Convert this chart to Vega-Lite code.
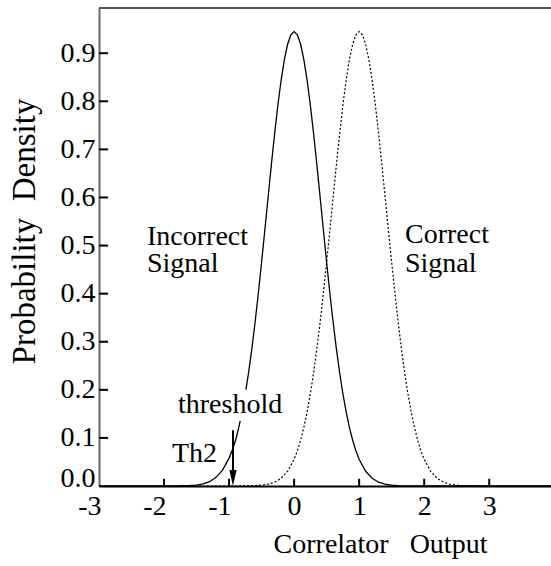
{
  "$schema": "https://vega.github.io/schema/vega-lite/v6.json",
  "width": 452,
  "height": 478,
  "autosize": "none",
  "padding": {"left": 99, "top": 8, "right": 0, "bottom": 80},
  "background": "white",
  "config": {"view": {"stroke": null}, "font": "Liberation Serif"},
  "datasets": {
    "incorrect": [
      {"x": -3, "y": 0}, {"x": -2.5, "y": 0}, {"x": -2, "y": 0}, {"x": -1.8, "y": 0.0002},
      {"x": -1.6, "y": 0.001}, {"x": -1.5, "y": 0.002}, {"x": -1.4, "y": 0.0045}, {"x": -1.3, "y": 0.009},
      {"x": -1.2, "y": 0.018}, {"x": -1.1, "y": 0.033}, {"x": -1.0, "y": 0.058}, {"x": -0.95, "y": 0.075},
      {"x": -0.9, "y": 0.0951}, {"x": -0.85, "y": 0.1219}, {"x": -0.8, "y": 0.154}, {"x": -0.75, "y": 0.1919},
      {"x": -0.7, "y": 0.2356}, {"x": -0.65, "y": 0.2853}, {"x": -0.6, "y": 0.3406}, {"x": -0.55, "y": 0.4009},
      {"x": -0.5, "y": 0.4652}, {"x": -0.45, "y": 0.5323}, {"x": -0.4, "y": 0.6005}, {"x": -0.35, "y": 0.6678},
      {"x": -0.3, "y": 0.7322}, {"x": -0.25, "y": 0.7916}, {"x": -0.2, "y": 0.8437}, {"x": -0.15, "y": 0.8866},
      {"x": -0.1, "y": 0.9186}, {"x": -0.05, "y": 0.9383}, {"x": 0, "y": 0.945}, {"x": 0.05, "y": 0.9383},
      {"x": 0.1, "y": 0.9186}, {"x": 0.15, "y": 0.8866}, {"x": 0.2, "y": 0.8437}, {"x": 0.25, "y": 0.7916},
      {"x": 0.3, "y": 0.7322}, {"x": 0.35, "y": 0.6678}, {"x": 0.4, "y": 0.6005}, {"x": 0.45, "y": 0.5323},
      {"x": 0.5, "y": 0.4652}, {"x": 0.55, "y": 0.4009}, {"x": 0.6, "y": 0.3406}, {"x": 0.65, "y": 0.2853},
      {"x": 0.7, "y": 0.2356}, {"x": 0.75, "y": 0.1919}, {"x": 0.8, "y": 0.154}, {"x": 0.85, "y": 0.1219},
      {"x": 0.9, "y": 0.0951}, {"x": 0.95, "y": 0.0732}, {"x": 1.0, "y": 0.0555}, {"x": 1.1, "y": 0.0306},
      {"x": 1.2, "y": 0.016}, {"x": 1.3, "y": 0.0079}, {"x": 1.4, "y": 0.0037}, {"x": 1.5, "y": 0.0016},
      {"x": 1.6, "y": 0.0007}, {"x": 1.8, "y": 0.0001}, {"x": 2, "y": 0}, {"x": 3, "y": 0}, {"x": 3.95, "y": 0}
    ],
    "correct": [
      {"x": -3, "y": 0}, {"x": -2, "y": 0}, {"x": -1, "y": 0}, {"x": -0.8, "y": 0.0001},
      {"x": -0.6, "y": 0.0007}, {"x": -0.5, "y": 0.0016}, {"x": -0.4, "y": 0.0037}, {"x": -0.3, "y": 0.0079},
      {"x": -0.2, "y": 0.016}, {"x": -0.1, "y": 0.0306}, {"x": 0, "y": 0.0555}, {"x": 0.05, "y": 0.0732},
      {"x": 0.1, "y": 0.0951}, {"x": 0.15, "y": 0.1219}, {"x": 0.2, "y": 0.154}, {"x": 0.25, "y": 0.1919},
      {"x": 0.3, "y": 0.2356}, {"x": 0.35, "y": 0.2853}, {"x": 0.4, "y": 0.3406}, {"x": 0.45, "y": 0.4009},
      {"x": 0.5, "y": 0.4652}, {"x": 0.55, "y": 0.5323}, {"x": 0.6, "y": 0.6005}, {"x": 0.65, "y": 0.6678},
      {"x": 0.7, "y": 0.7322}, {"x": 0.75, "y": 0.7916}, {"x": 0.8, "y": 0.8437}, {"x": 0.85, "y": 0.8866},
      {"x": 0.9, "y": 0.9186}, {"x": 0.95, "y": 0.9383}, {"x": 1.0, "y": 0.945}, {"x": 1.05, "y": 0.9383},
      {"x": 1.1, "y": 0.9186}, {"x": 1.15, "y": 0.8866}, {"x": 1.2, "y": 0.8437}, {"x": 1.25, "y": 0.7916},
      {"x": 1.3, "y": 0.7322}, {"x": 1.35, "y": 0.6678}, {"x": 1.4, "y": 0.6005}, {"x": 1.45, "y": 0.5323},
      {"x": 1.5, "y": 0.4652}, {"x": 1.55, "y": 0.4009}, {"x": 1.6, "y": 0.3406}, {"x": 1.65, "y": 0.2853},
      {"x": 1.7, "y": 0.2356}, {"x": 1.75, "y": 0.1919}, {"x": 1.8, "y": 0.154}, {"x": 1.85, "y": 0.1219},
      {"x": 1.9, "y": 0.0951}, {"x": 1.95, "y": 0.0732}, {"x": 2.0, "y": 0.0555}, {"x": 2.1, "y": 0.0306},
      {"x": 2.2, "y": 0.016}, {"x": 2.3, "y": 0.0079}, {"x": 2.4, "y": 0.0037}, {"x": 2.5, "y": 0.0016},
      {"x": 2.6, "y": 0.0007}, {"x": 2.8, "y": 0.0001}, {"x": 3, "y": 0}, {"x": 3.95, "y": 0}
    ],
    "border": [{"x": -3, "x2": 3.95, "y": 0.994}],
    "yticks": [
      {"x": -3, "x2": -2.86, "y": 0.1}, {"x": -3, "x2": -2.86, "y": 0.2}, {"x": -3, "x2": -2.86, "y": 0.3},
      {"x": -3, "x2": -2.86, "y": 0.4}, {"x": -3, "x2": -2.86, "y": 0.5}, {"x": -3, "x2": -2.86, "y": 0.6},
      {"x": -3, "x2": -2.86, "y": 0.7}, {"x": -3, "x2": -2.86, "y": 0.8}, {"x": -3, "x2": -2.86, "y": 0.9}
    ],
    "xticks": [
      {"x": -2, "y": 0, "y2": 0.015}, {"x": -1, "y": 0, "y2": 0.015}, {"x": 0, "y": 0, "y2": 0.015},
      {"x": 1, "y": 0, "y2": 0.015}, {"x": 2, "y": 0, "y2": 0.015}, {"x": 3, "y": 0, "y2": 0.015}
    ],
    "mask": [{"x": -1.8, "x2": -0.14, "y": 0.135, "y2": 0.2}],
    "labels": [
      {"text": "Incorrect", "x": -2.262, "y": 0.501},
      {"text": "Signal", "x": -2.262, "y": 0.445},
      {"text": "Correct", "x": 1.705, "y": 0.505},
      {"text": "Signal", "x": 1.705, "y": 0.445},
      {"text": "threshold", "x": -1.785, "y": 0.152},
      {"text": "Th2", "x": -1.878, "y": 0.05}
    ],
    "arrow": [{"x": -0.94, "y": 0.116, "y2": 0.03}],
    "head": [{"x": -0.94, "y": 0.0}]
  },
  "encoding": {
    "x": {
      "field": "x", "type": "quantitative",
      "scale": {"domain": [-3, 3.95], "nice": false, "zero": false},
      "axis": {
        "values": [-3, -2, -1, 0, 1, 2, 3],
        "labelExpr": "toString(datum.value)",
        "grid": false, "ticks": false,
        "domainColor": "black", "domainWidth": 2,
        "labelFont": "Liberation Serif", "labelFontSize": 28, "labelColor": "black",
        "labelPadding": 6, "labelFlush": false, "labelOverlap": false, "labelBound": false,
        "labelAlign": {"condition": {"test": "datum.value < 0", "value": "right"}, "value": "center"},
        "labelOffset": {"condition": {"test": "datum.value < 0", "value": 2}, "value": 0},
        "title": "Correlator\u00a0\u00a0\u00a0Output",
        "titleFont": "Liberation Serif", "titleFontSize": 28, "titleFontWeight": "normal", "titleColor": "black",
        "titleAlign": "center", "titleBaseline": "alphabetic", "titleX": 281, "titleY": 66
      }
    },
    "y": {
      "field": "y", "type": "quantitative",
      "scale": {"domain": [0, 0.994], "nice": false, "zero": false},
      "axis": {
        "values": [0, 0.1, 0.2, 0.3, 0.4, 0.5, 0.6, 0.7, 0.8, 0.9],
        "format": ".1f",
        "grid": false, "ticks": false,
        "domainColor": "#666", "domainWidth": 2,
        "labelFont": "Liberation Serif", "labelFontSize": 28, "labelColor": "black",
        "labelPadding": 4, "labelOverlap": false, "labelBound": false, "labelFlush": false,
        "labelBaseline": {"condition": {"test": "datum.value === 0", "value": "alphabetic"}, "value": "middle"},
        "title": "Probability\u00a0\u00a0Density",
        "titleFont": "Liberation Serif", "titleFontSize": 33, "titleFontWeight": "normal", "titleColor": "black",
        "titleAngle": 270, "titleAlign": "center", "titleBaseline": "middle", "titleX": -75, "titleY": 223
      }
    }
  },
  "layer": [
    {
      "data": {"name": "border"},
      "mark": {"type": "rule", "color": "#555", "strokeWidth": 2},
      "encoding": {"x2": {"field": "x2"}}
    },
    {
      "data": {"name": "yticks"},
      "mark": {"type": "rule", "color": "black", "strokeWidth": 2},
      "encoding": {"x2": {"field": "x2"}}
    },
    {
      "data": {"name": "xticks"},
      "mark": {"type": "rule", "color": "black", "strokeWidth": 2},
      "encoding": {"y2": {"field": "y2"}}
    },
    {
      "data": {"name": "correct"},
      "mark": {"type": "line", "color": "black", "strokeWidth": 1.2, "strokeDash": [2, 2]}
    },
    {
      "data": {"name": "incorrect"},
      "mark": {"type": "line", "color": "black", "strokeWidth": 1.3}
    },
    {
      "data": {"name": "mask"},
      "mark": {"type": "rect", "color": "white"},
      "encoding": {"x2": {"field": "x2"}, "y2": {"field": "y2"}}
    },
    {
      "data": {"name": "labels"},
      "mark": {"type": "text", "align": "left", "baseline": "alphabetic", "font": "Liberation Serif", "fontSize": 28, "color": "black"},
      "encoding": {"text": {"field": "text"}}
    },
    {
      "data": {"name": "arrow"},
      "mark": {"type": "rule", "color": "black", "strokeWidth": 2},
      "encoding": {"y2": {"field": "y2"}}
    },
    {
      "data": {"name": "head"},
      "mark": {"type": "point", "shape": "M -0.45 -2 L 0.45 -2 L 0 0 Z", "size": 256, "filled": true, "color": "black", "opacity": 1, "strokeWidth": 0}
    }
  ]
}
